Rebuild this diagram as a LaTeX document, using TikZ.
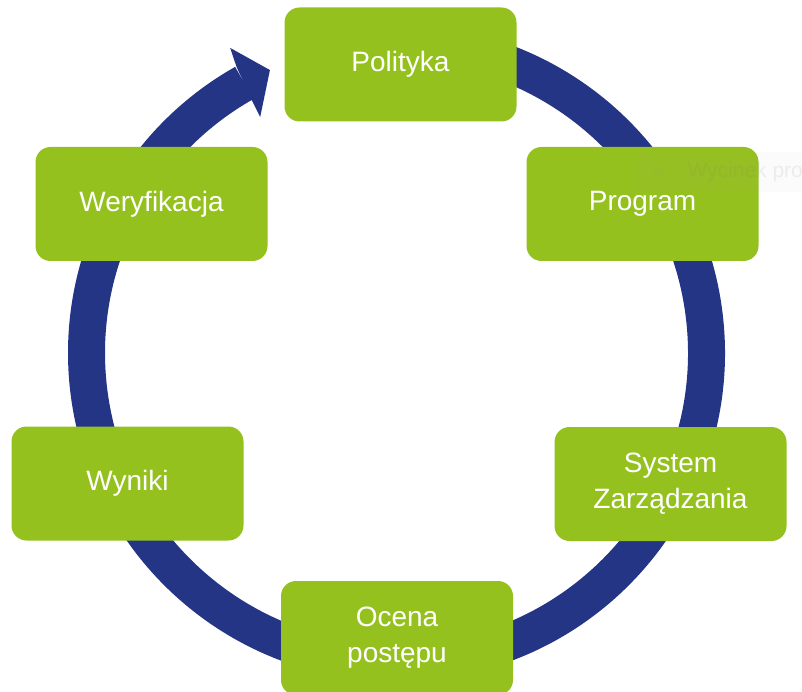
\documentclass[tikz,border=0pt]{standalone}
\usepackage{fontspec}
\setmainfont{Liberation Sans}
\definecolor{ringblue}{HTML}{233584}
\definecolor{boxgreen}{HTML}{95C11F}

\begin{document}
\begin{tikzpicture}[
  x=1pt, y=1pt,
  every node/.style={font=\fontsize{28}{36}\selectfont},
  box/.style={fill=boxgreen, rounded corners=15pt, minimum width=232pt,
    minimum height=114pt, inner sep=0pt, text=white, align=center}
]
\useasboundingbox (0,0) rectangle (802,691);
\clip (0,0) rectangle (802,691);
\coordinate (ctr) at (396.5,338);

% ring (tail hidden under Polityka) and arrow head:
\draw [ringblue, line width=37pt, shift={(ctr)}] (95:310) arc[start angle=95, end angle=-240.6, radius=310];
\fill [ringblue, shift={(ctr)}] (119.2:328) -- (118.6:347.5) -- (114.1:310) -- (120.0:272.6) -- (119.8:291.5) -- cycle;

% boxes
\foreach \name/\x/\y/\txt in {polityka/400.5/624.5/Polityka, program/642.5/485/Program,
    system/670.5/205/System\\Zarządzania, ocena/397/51/Ocena\\postępu,
    wyniki/127.5/205.5/Wyniki, weryfikacja/151.5/485/Weryfikacja} {
  \node [box] (\name) at (\x,\y+2) {\txt};
}

% faint screenshot leftover
\fill [black!40, opacity=0.04] (638,499) rectangle (802,539);
\fill [black!40, opacity=0.06] (658,519) circle[radius=5];
\node [text=black!50, opacity=0.12, font=\fontsize{21}{25}\selectfont, anchor=west] (wycinek) at (684,519) {Wycinek pro};

\end{tikzpicture}
\end{document}
